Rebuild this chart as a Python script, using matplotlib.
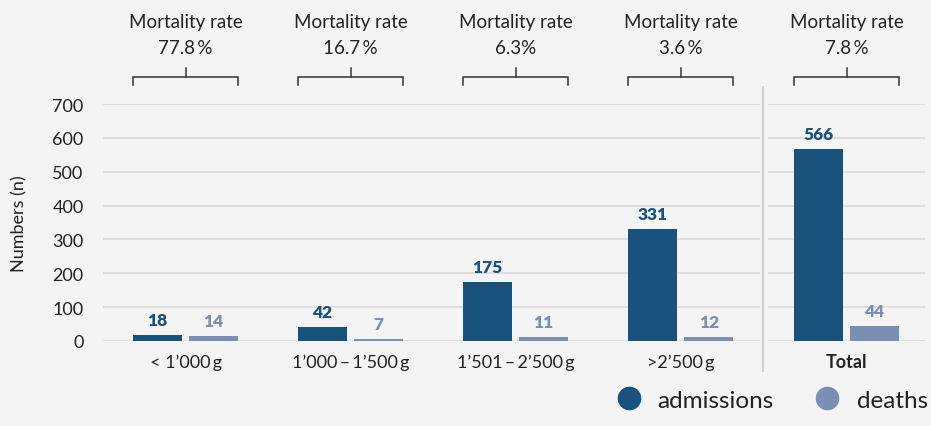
import matplotlib.pyplot as plt
from matplotlib.lines import Line2D

plt.rcParams['font.family'] = ['Lato', 'DejaVu Sans']

# Data
groups = ['< 1\u2019000\u2009g', '1\u2019000\u2009\u2013\u20091\u2019500\u2009g',
          '1\u2019501\u2009\u2013\u20092\u2019500\u2009g', '>2\u2019500\u2009g']
admissions = [18, 42, 175, 331]
deaths = [14, 7, 11, 12]
mortality = ['77.8\u2009%', '16.7\u2009%', '6.3%', '3.6\u2009%']

total_label = 'Total'
total_admissions = 566
total_deaths = 44
total_mortality = '7.8\u2009%'

# Style
bg = '#f4f4f4'
dark = '#1a527e'
light = '#7b8fb5'
grid_col = '#dadada'
W, H = 931, 427

fig = plt.figure(figsize=(W / 100, H / 100), dpi=100, facecolor=bg)

def px_axes(x0, x1, y_top, y_bot):
    return fig.add_axes([x0 / W, 1 - y_bot / H, (x1 - x0) / W, (y_bot - y_top) / H])

ax1 = px_axes(103, 760, 105, 342)
ax2 = px_axes(768, 925, 105, 342)

bw = 0.297
off = 0.17


def draw_panel(ax, labels, adm, dth, rates, xlim, bold=False):
    ax.set_facecolor(bg)
    xs = list(range(len(labels)))
    ax.bar([x - off for x in xs], adm, width=bw, color=dark, zorder=3)
    ax.bar([x + off for x in xs], dth, width=bw, color=light, zorder=3)
    for x, a, d in zip(xs, adm, dth):
        ax.annotate(str(a), (x - off, a), xytext=(0, 5), textcoords='offset points',
                    ha='center', va='bottom', fontsize=12.5, fontweight='heavy', color=dark)
        ax.annotate(str(d), (x + off, d), xytext=(0, 5), textcoords='offset points',
                    ha='center', va='bottom', fontsize=12.5, fontweight='heavy', color=light)
    # brackets and mortality rate
    for x, r in zip(xs, rates):
        l, rr = x - off - bw / 2, x + off + bw / 2
        ax.plot([l, l, rr, rr], [756, 779, 779, 756], color='#333333', lw=1.1,
                clip_on=False, solid_joinstyle='miter')
        ax.plot([x, x], [779, 806], color='#333333', lw=1.1, clip_on=False)
        ax.text(x, 944, 'Mortality rate', ha='center', va='center', fontsize=13.5,
                color='#222222')
        ax.text(x, 868, r, ha='center', va='center', fontsize=13.5, color='#222222')
    ax.set_xlim(*xlim)
    ax.set_ylim(0, 700)
    ax.set_yticks(range(0, 701, 100))
    ax.grid(axis='y', color=grid_col, lw=1.2, zorder=0)
    ax.set_xticks(xs)
    ax.set_xticklabels(labels, fontsize=13, color='#222222',
                       fontweight='bold' if bold else 'normal')
    ax.tick_params(axis='x', length=0, pad=9)
    for s in ax.spines.values():
        s.set_visible(False)


draw_panel(ax1, groups, admissions, deaths, mortality, (-0.5, 3.48))
draw_panel(ax2, [total_label], [total_admissions], [total_deaths], [total_mortality],
           (-0.476, 0.476), bold=True)

ax1.tick_params(axis='y', length=0, pad=14, labelsize=13, labelcolor='#222222')
ax2.tick_params(axis='y', length=0, labelleft=False)
ax1.set_ylabel('Numbers (n)', fontsize=13, color='#222222', labelpad=18)

# separator between groups and total
fig.add_artist(Line2D([763 / W, 763 / W], [1 - 88 / H, 1 - 372 / H], color='#d0d0d0', lw=1.5))

handles = [Line2D([], [], marker='o', ls='', color=dark, markersize=16),
           Line2D([], [], marker='o', ls='', color=light, markersize=16)]
fig.legend(handles, ['admissions', 'deaths'], loc='lower right', bbox_to_anchor=(1.02, -0.015),
           ncol=2, frameon=False, fontsize=17.5, handletextpad=0.2, columnspacing=1.2,
           labelcolor='#222222')

fig.savefig('out.png', dpi=100, facecolor=bg)
